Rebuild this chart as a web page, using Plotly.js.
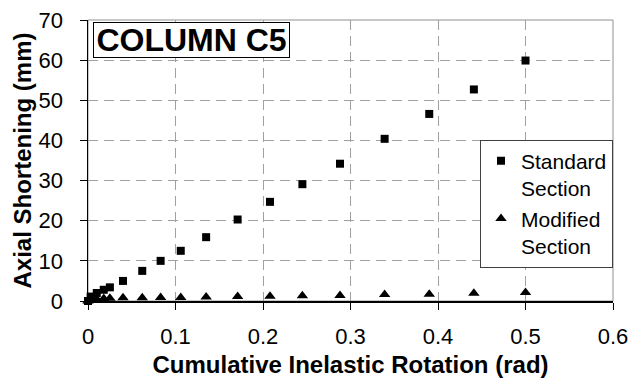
<!DOCTYPE html>
<html>
<head>
<meta charset="utf-8">
<script src="https://cdn.plot.ly/plotly-3.0.1.min.js"></script>
<style>html,body{margin:0;padding:0;background:#fff;}#chart{width:641px;height:381px;}</style>
</head>
<body>
<div id="chart"></div>
<script>
// Cumulative inelastic rotation (rad)
var rotation = [0, 0.003, 0.010, 0.018, 0.025, 0.040, 0.062, 0.083, 0.106, 0.135, 0.171, 0.208, 0.245, 0.288, 0.339, 0.390, 0.441, 0.500];
// Axial shortening (mm)
var standardSection = [0, 1.1, 2.0, 2.8, 3.4, 5.0, 7.5, 10.0, 12.5, 15.9, 20.3, 24.7, 29.1, 34.2, 40.4, 46.6, 52.7, 59.9];
var modifiedSection = [0, 0.3, 0.5, 0.6, 0.7, 0.8, 0.8, 0.9, 0.9, 1.0, 1.1, 1.2, 1.3, 1.4, 1.6, 1.7, 1.9, 2.1];
var seriesNames = ["Standard<br>Section", "Modified<br>Section"];
var xTicks = [0, 0.1, 0.2, 0.3, 0.4, 0.5, 0.6];
var yTicks = [0, 10, 20, 30, 40, 50, 60, 70];
var chartTitle = "COLUMN C5";

var font = "Liberation Sans, Arial, Helvetica, sans-serif";

var traces = [
  {x: rotation, y: standardSection, name: seriesNames[0], mode: "markers", type: "scatter",
   marker: {symbol: "square", size: 8, color: "#000"}, cliponaxis: false},
  {x: rotation, y: modifiedSection, name: seriesNames[1], mode: "markers", type: "scatter",
   marker: {symbol: "triangle-up", size: 10, color: "#000"}, cliponaxis: false}
];

var layout = {
  width: 641, height: 381,
  margin: {l: 88, r: 28, t: 20, b: 80},
  paper_bgcolor: "#fff", plot_bgcolor: "#fff",
  font: {family: font, color: "#000", size: 22},
  showlegend: true,
  legend: {x: 1, xanchor: "right", y: 0.574, yanchor: "top", bgcolor: "#fff",
           bordercolor: "#404040", borderwidth: 1, font: {size: 21, family: font},
           valign: "top", tracegroupgap: 0},
  xaxis: {range: [0, 0.6], tickvals: xTicks, ticktext: xTicks.map(String),
          showgrid: true, gridcolor: "#a0a0a0", griddash: "10px,6px", gridwidth: 1,
          showline: true, linecolor: "#000", linewidth: 1.5,
          ticks: "outside", ticklen: 7, tickcolor: "#000", zeroline: false,
          tickfont: {size: 22}, ticklabelstandoff: 8,
          title: {text: "<b>Cumulative Inelastic Rotation (rad)</b>", font: {size: 24}, standoff: 8}},
  yaxis: {range: [0, 70], tickvals: yTicks,
          ticktext: yTicks.map(function (v) { return String(v) + "\u00a0\u00a0"; }),
          showgrid: true, gridcolor: "#a0a0a0", griddash: "10px,6px", gridwidth: 1,
          showline: true, linecolor: "#000", linewidth: 1.5,
          ticks: "outside", ticklen: 7, tickcolor: "#000", zeroline: false,
          tickfont: {size: 22},
          title: {text: "<b>Axial Shortening (mm)</b>", font: {size: 24}, standoff: 0}},
  shapes: [{type: "rect", xref: "paper", yref: "paper", x0: 0, x1: 1, y0: 0, y1: 1,
            line: {color: "#909090", width: 1}, layer: "below"}],
  annotations: [{text: "<b>" + chartTitle + "</b>", xref: "paper", yref: "paper",
                 x: 0.009, y: 0.993, xanchor: "left", yanchor: "top", showarrow: false,
                 width: 195, height: 34, align: "center", valign: "middle",
                 font: {size: 32, family: font}, bgcolor: "#fff", bordercolor: "#000",
                 borderwidth: 1, borderpad: 0}]
};

Plotly.newPlot("chart", traces, layout, {displayModeBar: false, staticPlot: true});
</script>
</body>
</html>
